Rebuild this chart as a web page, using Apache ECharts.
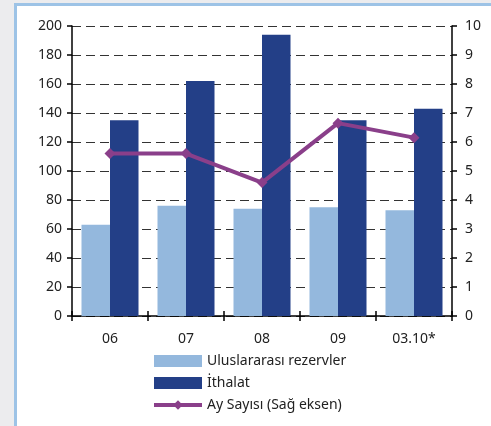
<!DOCTYPE html>
<html>
<head>
<meta charset="utf-8">
<script src="https://cdn.jsdelivr.net/npm/echarts@6/dist/echarts.min.js"></script>
<style>
  html, body { margin: 0; padding: 0; background: #ececee; }
  #chart { width: 491px; height: 426px; }
</style>
</head>
<body>
<div id="chart"></div>
<script>
// Years on the horizontal axis
const categories = ['06', '07', '08', '09', '03.10*'];
// International reserves (left axis)
const reserves = [63, 76, 74, 75, 73];
// Imports (left axis)
const imports = [135, 162, 194, 135, 143];
// Number of months of import coverage (right axis)
const months = [5.6, 5.6, 4.6, 6.65, 6.15];

const leftTicks = { min: 0, max: 200, interval: 20 };
const rightTicks = { min: 0, max: 10, interval: 1 };

const FONT = '"Noto Sans", sans-serif';
const PURPLE = '#8a3f8a';
const chart = echarts.init(document.getElementById('chart'), null, { renderer: 'canvas' });

chart.setOption({
  animation: false,
  backgroundColor: '#ececee',
  graphic: [
    { type: 'rect', z: -10, shape: { x: 14, y: 3, width: 477, height: 423 }, style: { fill: '#9dc3e6' } },
    { type: 'rect', z: -9, shape: { x: 17, y: 6, width: 474, height: 420 }, style: { fill: '#ffffff' } }
  ],
  grid: { left: 72, right: 39, top: 26, bottom: 110, containLabel: false },
  legend: {
    orient: 'vertical',
    left: 152,
    top: 354,
    padding: 0,
    itemWidth: 48,
    itemHeight: 12,
    itemGap: 8,
    textStyle: { fontFamily: FONT, fontSize: 14, color: '#222' },
    data: [
      { name: 'Uluslararası rezervler', icon: 'rect' },
      { name: 'İthalat', icon: 'rect' },
      { name: 'Ay Sayısı (Sağ eksen)', lineStyle: { width: 4, color: PURPLE } }
    ]
  },
  xAxis: [
    {
      type: 'category',
      data: categories,
      axisLine: { lineStyle: { color: '#000', width: 1.5 } },
      axisTick: { show: true, length: 5, lineStyle: { color: '#000', width: 1.5 } },
      axisLabel: { fontFamily: FONT, fontSize: 14, color: '#222', margin: 16 }
    },
    {
      type: 'category',
      data: categories,
      position: 'bottom',
      axisLine: { show: false },
      axisTick: { show: true, inside: true, length: 5, lineStyle: { color: '#000', width: 1.5 } },
      axisLabel: { show: false }
    }
  ],
  yAxis: [
    {
      type: 'value',
      min: leftTicks.min, max: leftTicks.max, interval: leftTicks.interval,
      axisLine: { show: true, lineStyle: { color: '#000', width: 1.5 } },
      axisTick: { show: true, length: 5, lineStyle: { color: '#000', width: 1.5 } },
      axisLabel: { fontFamily: FONT, fontSize: 14, color: '#222', margin: 10 },
      splitLine: { show: true, lineStyle: { color: '#333', width: 1, type: [9, 5] } }
    },
    {
      type: 'value',
      position: 'right',
      min: rightTicks.min, max: rightTicks.max, interval: rightTicks.interval,
      axisLine: { show: true, lineStyle: { color: '#000', width: 1.5 } },
      axisTick: { show: true, length: 5, lineStyle: { color: '#000', width: 1.5 } },
      axisLabel: { fontFamily: FONT, fontSize: 14, color: '#222', margin: 13 },
      splitLine: { show: false }
    }
  ],
  series: [
    {
      name: 'Uluslararası rezervler',
      type: 'bar',
      data: reserves,
      itemStyle: { color: '#94b8dd' },
      barGap: '0%',
      barCategoryGap: '25%'
    },
    {
      name: 'İthalat',
      type: 'bar',
      data: imports,
      itemStyle: { color: '#233f87' },
      barGap: '0%',
      barCategoryGap: '25%'
    },
    {
      name: 'Ay Sayısı (Sağ eksen)',
      type: 'line',
      yAxisIndex: 1,
      data: months,
      symbol: 'diamond',
      symbolSize: 11,
      lineStyle: { color: PURPLE, width: 4 },
      itemStyle: { color: PURPLE },
      z: 5
    }
  ]
});
</script>
</body>
</html>
